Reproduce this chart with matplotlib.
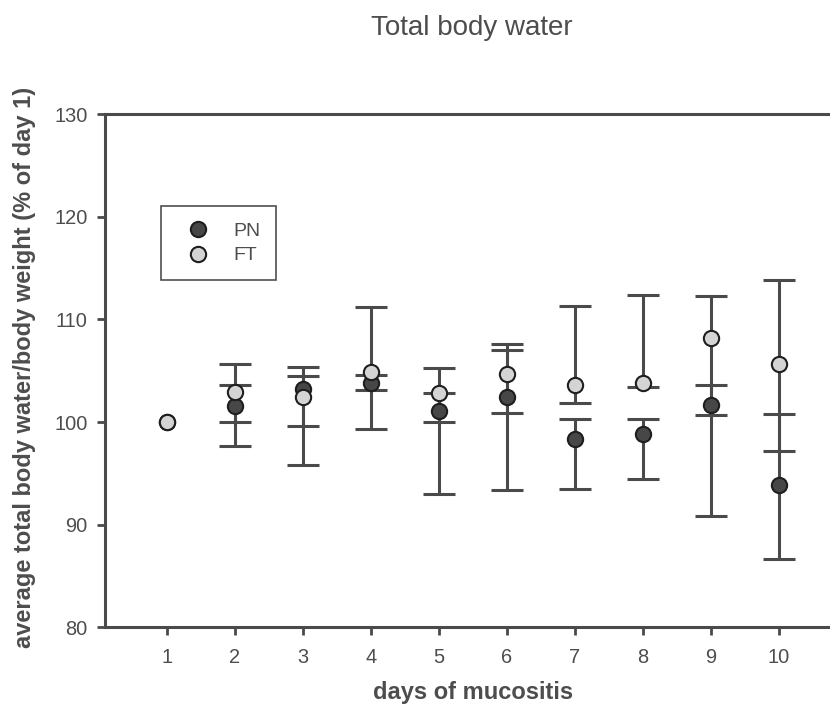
import matplotlib.pyplot as plt
from matplotlib.lines import Line2D
import numpy as np

plt.rcParams['font.family'] = ['Liberation Sans', 'DejaVu Sans']

days = [1, 2, 3, 4, 5, 6, 7, 8, 9, 10]
nan = np.nan

# PN group: mean, lower and upper ends of error bar (day 1 has none)
pn_mean = [100.0, 101.6, 103.2, 103.8, 101.1, 102.4, 98.4, 98.8, 101.65, 93.85]
pn_low = [nan, 97.7, 95.8, 103.1, 93.0, 93.4, 93.5, 94.5, 90.9, 86.7]
pn_high = [nan, 103.6, 104.5, 104.6, 102.85, 107.0, 100.3, 100.3, 103.6, 100.8]

# FT group
ft_mean = [100.0, 102.9, 102.4, 104.9, 102.85, 104.7, 103.6, 103.8, 108.2, 105.7]
ft_low = [nan, 100.0, 99.6, 99.3, 100.0, 100.9, 101.9, 103.4, 100.7, 97.2]
ft_high = [nan, 105.7, 105.4, 111.2, 105.3, 107.6, 111.3, 112.4, 112.3, 113.8]

yticks = [80, 90, 100, 110, 120, 130]

grey = '#4a4a4a'
text_col = '#4d4d4d'
pn_col = '#474747'
ft_col = '#d4d4d4'

fig = plt.figure(figsize=(8.3, 7.13), dpi=100)
ax = fig.add_axes([0.1265, 0.12, 0.8735, 0.72])

def draw(mean, low, high, face):
    mean = np.array(mean)
    err = [mean - np.array(low), np.array(high) - mean]
    ax.errorbar(days, mean, yerr=err, fmt='none', ecolor=grey, elinewidth=2.2,
                capsize=11.5, capthick=2.2, zorder=2)
    ax.plot(days, mean, 'o', ms=11, mfc=face, mec='#1e1e1e', mew=1.5,
            linestyle='none', zorder=3)

draw(pn_mean, pn_low, pn_high, pn_col)
draw(ft_mean, ft_low, ft_high, ft_col)

ax.set_xlim(0.09, 10.75)
ax.set_ylim(80, 130)
ax.set_xticks(days)
ax.set_yticks(yticks)

for s in ['left', 'top', 'bottom']:
    ax.spines[s].set_linewidth(2.2)
    ax.spines[s].set_color(grey)
ax.spines['right'].set_visible(False)
ax.tick_params(direction='out', length=5.5, width=2, color=grey,
               labelsize=14.4, labelcolor=text_col)
ax.tick_params(axis='x', pad=9)
ax.tick_params(axis='y', pad=7)

fig.text(0.570, 0.020, 'days of mucositis', ha='center', va='baseline',
         fontsize=17, fontweight='bold', color=text_col)
fig.text(0.030, 0.485, 'average total body water/body weight (% of day 1)',
         ha='center', va='center', rotation=90, fontsize=17,
         fontweight='bold', color=text_col)
fig.text(0.569, 0.951, 'Total body water', ha='center', va='baseline',
         fontsize=20, color=text_col)

handles = [
    Line2D([], [], marker='o', ls='none', ms=11, mfc=pn_col, mec='#1e1e1e', mew=1.5),
    Line2D([], [], marker='o', ls='none', ms=11, mfc=ft_col, mec='#1e1e1e', mew=1.5),
]
leg = ax.legend(handles, ['PN', 'FT'], loc='upper left',
                bbox_to_anchor=(0.1936, 0.711), bbox_transform=fig.transFigure,
                borderaxespad=0, fontsize=14, frameon=True, fancybox=False,
                borderpad=0.82, labelspacing=0.37, handlelength=2.2,
                handletextpad=0.7)
leg.get_frame().set_edgecolor('#222222')
leg.get_frame().set_linewidth(1.2)
for t in leg.get_texts():
    t.set_color(text_col)

fig.savefig('out.png', dpi=100)
